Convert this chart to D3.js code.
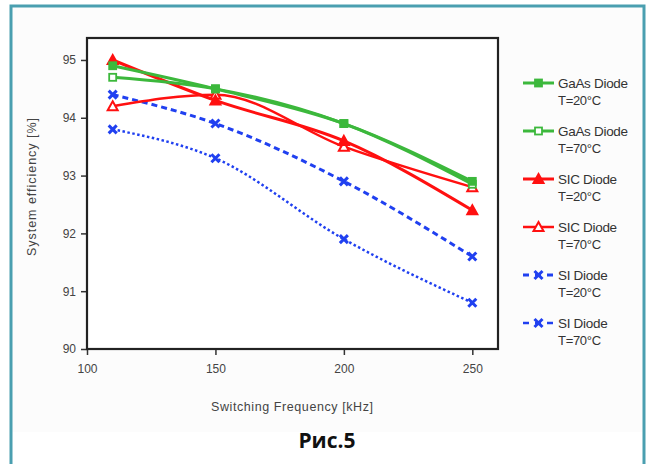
<!DOCTYPE html>
<html>
<head>
<meta charset="utf-8">
<script src="https://cdn.jsdelivr.net/npm/d3@7"></script>
<style>
  html, body { margin: 0; padding: 0; background: #fff; }
  svg { display: block; font-family: 'Liberation Sans', Arial, sans-serif; }
</style>
</head>
<body>
<svg id="chart" width="648" height="464"></svg>
<script>
// Chart data
const frequencies = [110, 150, 200, 250];
const gaas20 = [94.9, 94.5, 93.9, 92.9];
const gaas70 = [94.7, 94.5, 93.9, 92.85];
const sic20 = [95.0, 94.3, 93.6, 92.4];
const sic70 = [94.2, 94.4, 93.5, 92.8];
const si20 = [94.4, 93.9, 92.9, 91.6];
const si70 = [93.8, 93.3, 91.9, 90.8];
const xTicks = [100, 150, 200, 250];
const yTicks = [90, 91, 92, 93, 94, 95];

const seriesNames = ['GaAs Diode', 'GaAs Diode', 'SIC Diode', 'SIC Diode', 'SI Diode', 'SI Diode'];
const seriesTemps = ['T=20°C', 'T=70°C', 'T=20°C', 'T=70°C', 'T=20°C', 'T=70°C'];
const seriesValues = [gaas20, gaas70, sic20, sic70, si20, si70];

// Styles per series
const styles = [
  { color: '#3cb83c', marker: 'square', fill: true, width: 3, dash: null },
  { color: '#3cb83c', marker: 'square', fill: false, width: 3, dash: null },
  { color: '#ff1010', marker: 'triangle', fill: true, width: 3, dash: null },
  { color: '#ff1010', marker: 'triangle', fill: false, width: 2.5, dash: null },
  { color: '#2040f0', marker: 'cross', fill: true, width: 3, dash: '6,4' },
  { color: '#2040f0', marker: 'cross', fill: true, width: 2.5, dash: '2.5,2.5' }
];

const svg = d3.select('#chart');

// Page frame
svg.append('rect').attr('x', 11).attr('y', 6).attr('width', 633).attr('height', 426).attr('fill', '#fcfcfc');
svg.append('path')
  .attr('d', 'M11,464 V6 H644 V464')
  .attr('fill', 'none')
  .attr('stroke', '#4a9fb0')
  .attr('stroke-width', 3);

const plot = { left: 87, right: 498, top: 38, bottom: 349 };

const x = d3.scaleLinear().domain([100, 260]).range([plot.left, plot.right]);
const y = d3.scaleLinear().domain([90, 95.38]).range([plot.bottom, plot.top]);

// Plot box
svg.append('rect')
  .attr('x', plot.left).attr('y', plot.top)
  .attr('width', plot.right - plot.left).attr('height', plot.bottom - plot.top)
  .attr('fill', '#fff');

// Axes
const xAxis = svg.append('g')
  .attr('transform', `translate(0, ${plot.bottom})`)
  .call(d3.axisBottom(x).tickValues(xTicks).tickFormat(d3.format('d')).tickSize(6).tickPadding(9).tickSizeOuter(0));
const yAxis = svg.append('g')
  .attr('transform', `translate(${plot.left}, 0)`)
  .call(d3.axisLeft(y).tickValues(yTicks).tickFormat(d3.format('d')).tickSize(6).tickPadding(5).tickSizeOuter(0));

[xAxis, yAxis].forEach(function(a) {
  a.select('.domain').remove();
  a.selectAll('line').attr('stroke', '#333').attr('stroke-width', 1.5);
  a.selectAll('text').attr('fill', '#444').attr('font-size', 12)
    .attr('font-family', "'Liberation Sans', Arial, sans-serif");
});

svg.append('rect')
  .attr('x', plot.left).attr('y', plot.top)
  .attr('width', plot.right - plot.left).attr('height', plot.bottom - plot.top)
  .attr('fill', 'none')
  .attr('stroke', '#222')
  .attr('stroke-width', 2.2);

// Axis titles
svg.append('text')
  .attr('x', 292).attr('y', 411)
  .attr('text-anchor', 'middle')
  .attr('font-size', 12.5)
  .attr('fill', '#444')
  .attr('textLength', 162)
  .text('Switching Frequency [kHz]');

svg.append('text')
  .attr('transform', 'translate(36, 187) rotate(-90)')
  .attr('text-anchor', 'middle')
  .attr('font-size', 12.5)
  .attr('fill', '#444')
  .attr('textLength', 138)
  .text('System efficiency [%]');

// Markers
function drawMarker(g, type, cx, cy, st) {
  if (type === 'square') {
    g.append('rect')
      .attr('x', cx - 3.5).attr('y', cy - 3.5).attr('width', 7).attr('height', 7)
      .attr('fill', st.fill ? st.color : '#fff')
      .attr('stroke', st.color).attr('stroke-width', 1.8);
  } else if (type === 'triangle') {
    g.append('path')
      .attr('d', `M${cx},${cy - 5} L${cx + 5},${cy + 4} L${cx - 5},${cy + 4} Z`)
      .attr('fill', st.fill ? st.color : '#fff')
      .attr('stroke', st.color).attr('stroke-width', 2);
  } else {
    g.append('path')
      .attr('d', `M${cx - 4},${cy - 4} L${cx + 4},${cy + 4} M${cx + 4},${cy - 4} L${cx - 4},${cy + 4}`)
      .attr('stroke', st.color).attr('stroke-width', 3).attr('fill', 'none');
  }
}

const line = d3.line()
  .x((d, i) => x(frequencies[i]))
  .y(d => y(d))
  .curve(d3.curveMonotoneX);

const seriesGroup = svg.append('g').attr('class', 'series');
// blue first, then red, then green on top like the original
[5, 4, 3, 2, 1, 0].forEach(function(k) {
  const st = styles[k];
  const g = seriesGroup.append('g');
  g.append('path')
    .attr('d', line(seriesValues[k]))
    .attr('fill', 'none')
    .attr('stroke', st.color)
    .attr('stroke-width', st.width)
    .attr('stroke-dasharray', st.dash);
  seriesValues[k].forEach(function(v, i) {
    drawMarker(g, st.marker, x(frequencies[i]), y(v), st);
  });
});

// Legend
const legend = svg.append('g').attr('class', 'legend');
seriesNames.forEach(function(name, k) {
  const st = styles[k];
  const ly = 83 + k * 48;
  const g = legend.append('g');
  g.append('line')
    .attr('x1', 523).attr('x2', 554).attr('y1', ly).attr('y2', ly)
    .attr('stroke', st.color).attr('stroke-width', st.width)
    .attr('stroke-dasharray', st.dash ? '6,6' : null);
  drawMarker(g, st.marker, 538.5, ly, st);
  g.append('text')
    .attr('x', 558).attr('y', ly + 4.5)
    .attr('font-size', 13.5).attr('fill', '#333')
    .attr('letter-spacing', -0.3)
    .text(name);
  g.append('text')
    .attr('x', 558).attr('y', ly + 21.5)
    .attr('font-size', 13).attr('fill', '#333')
    .attr('letter-spacing', -0.3)
    .text(seriesTemps[k]);
});

// Caption
svg.append('text')
  .attr('x', 327).attr('y', 448)
  .attr('text-anchor', 'middle')
  .attr('font-family', "'Open Sans', 'DejaVu Sans', sans-serif")
  .attr('font-weight', 'bold')
  .attr('font-size', 21)
  .attr('fill', '#111')
  .text('Рис.5');
</script>
</body>
</html>
